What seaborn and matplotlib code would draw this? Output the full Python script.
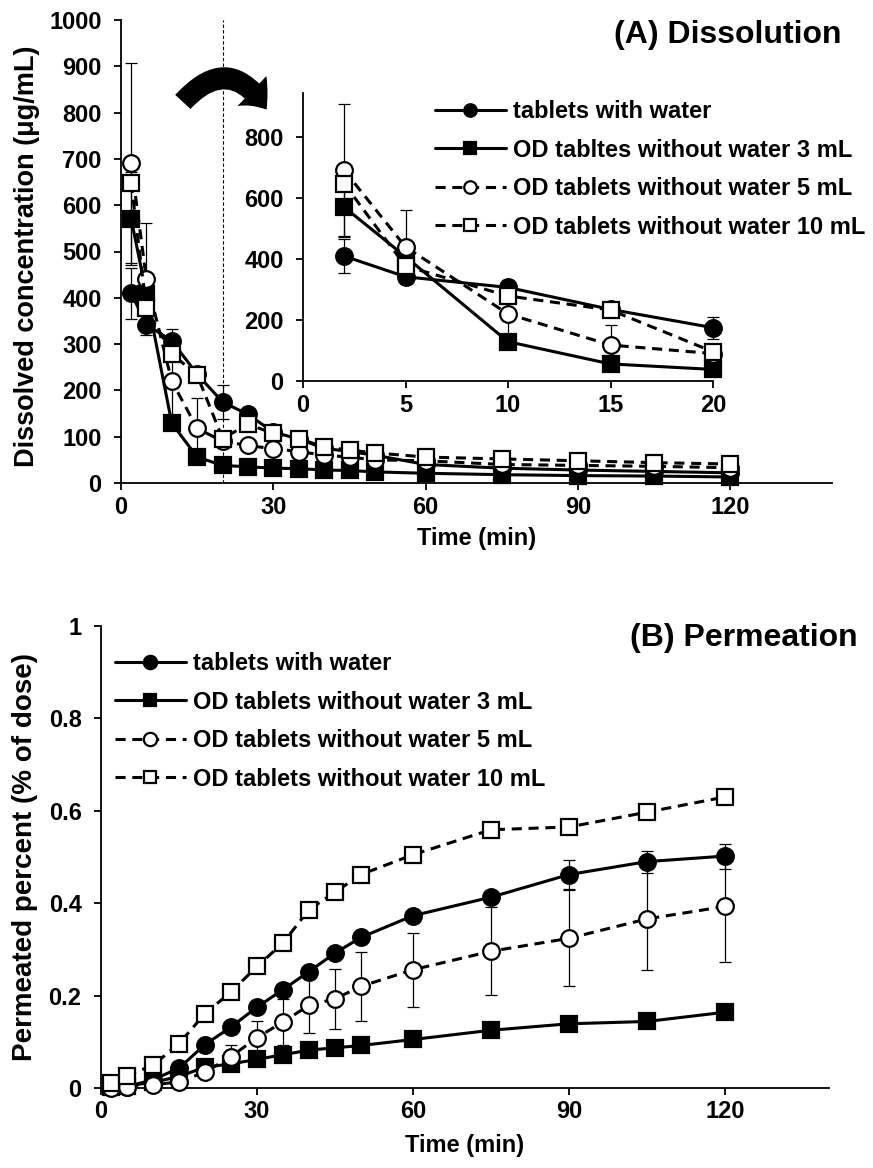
import numpy as np
import pandas as pd
import matplotlib
matplotlib.use("Agg")
import matplotlib.pyplot as plt
import seaborn as sns
from matplotlib.patches import FancyArrowPatch, ArrowStyle

# ---------------- data ----------------
time = [2, 5, 10, 15, 20, 25, 30, 35, 40, 45, 50, 60, 75, 90, 105, 120]

labels_a = ["tablets with water", "OD tabltes without water 3 mL",
            "OD tablets without water 5 mL", "OD tablets without water 10 mL"]
labels_b = ["tablets with water", "OD tablets without water 3 mL",
            "OD tablets without water 5 mL", "OD tablets without water 10 mL"]

# (A) dissolved concentration (ug/mL)
diss_water = [410, 342, 307, 235, 175, 148, 110, 95, 75, 68, 60, 40, 32, 28, 25, 22]
diss_od3 = [571, 408, 129, 56, 38, 35, 32, 31, 28, 27, 24, 21, 18, 16, 15, 13]
diss_od5 = [692, 440, 220, 118, 90, 81, 74, 68, 60, 56, 50, 48, 40, 38, 36, 33]
diss_od10 = [648, 377, 279, 233, 96, 127, 107, 96, 78, 71, 65, 56, 52, 48, 44, 41]
nan = np.nan
diss_water_sd = [55, nan, 25, nan, 36] + [nan] * 11
diss_od3_sd = [100] + [nan] * 15
diss_od5_sd = [216, 121, 95, 66] + [nan] * 12
diss_od10_sd = [nan] * 16

# (B) permeated percent (% of dose)
perm_water = [0.002, 0.003, 0.018, 0.043, 0.094, 0.132, 0.175, 0.213, 0.252, 0.292,
              0.326, 0.373, 0.413, 0.462, 0.490, 0.502]
perm_od3 = [0.002, 0.005, 0.012, 0.025, 0.045, 0.052, 0.062, 0.072, 0.082, 0.087,
            0.092, 0.105, 0.125, 0.139, 0.144, 0.164]
perm_od5 = [0.0, 0.002, 0.006, 0.014, 0.034, 0.068, 0.109, 0.143, 0.179, 0.193,
            0.220, 0.256, 0.296, 0.324, 0.366, 0.393]
perm_od10 = [0.011, 0.027, 0.049, 0.096, 0.161, 0.208, 0.263, 0.314, 0.386, 0.424,
             0.462, 0.505, 0.559, 0.565, 0.597, 0.630]
perm_water_sd = [nan] * 12 + [0.010, 0.032, 0.024, 0.027]
perm_od3_sd = [nan] * 16
perm_od5_sd = [nan] * 5 + [0.025, 0.037, 0.050, 0.060, 0.065, 0.074, 0.080, 0.095,
                           0.104, 0.110, 0.120]
perm_od10_sd = [nan] * 16

# ---------------- style ----------------
sns.set_style("ticks")
plt.rcParams["font.family"] = ["Liberation Sans", "DejaVu Sans"]
plt.rcParams["font.weight"] = "bold"
plt.rcParams["axes.labelweight"] = "bold"
plt.rcParams["axes.linewidth"] = 1.3
plt.rcParams["legend.numpoints"] = 1
plt.rcParams["text.color"] = "black"
plt.rcParams["axes.labelcolor"] = "black"
plt.rcParams["axes.edgecolor"] = "black"
plt.rcParams["xtick.color"] = "black"
plt.rcParams["ytick.color"] = "black"

W, H = 873, 1168
fig = plt.figure(figsize=(W / 100, H / 100), dpi=100)


def fx(px):
    return px / W


def fy(py):
    return 1 - py / H


LW = 2.2
styles = [
    dict(marker="o", markersize=12, markerfacecolor="black", linestyle="-"),
    dict(marker="s", markersize=11, markerfacecolor="black", linestyle="-"),
    dict(marker="o", markersize=12, markerfacecolor="white", linestyle=(0, (3.3, 2.2))),
    dict(marker="s", markersize=11, markerfacecolor="white", linestyle=(0, (3.3, 2.2))),
]


def draw(ax, ys, sds, labels, xmax=None):
    handles = []
    for i, (y, sd, lab, st) in enumerate(zip(ys, sds, labels, styles)):
        df = pd.DataFrame({"time": time, "value": y, "sd": sd})
        if xmax is not None:
            df = df[df["time"] <= xmax]
        e = df.dropna(subset=["sd"])
        if len(e):
            ax.errorbar(e["time"], e["value"], yerr=e["sd"], fmt="none",
                        ecolor="black", elinewidth=0.9, capsize=4.3, capthick=0.9,
                        zorder=2 + i * 0.1, label="_nolegend_", clip_on=False)
        sns.lineplot(data=df, x="time", y="value", ax=ax, color="black",
                     linewidth=LW, markeredgecolor="black", markeredgewidth=1.6,
                     label=lab, zorder=3 + i * 0.1, clip_on=False, **st)
        handles.append(ax.get_lines()[-1])
    return handles


def style_axis(ax, size=17):
    sns.despine(ax=ax)
    ax.tick_params(axis="both", direction="out", length=5, width=1.3,
                   labelsize=size, colors="black")
    ax.tick_params(axis="y", pad=9)
    ax.tick_params(axis="x", pad=4)
    for lab in ax.get_xticklabels() + ax.get_yticklabels():
        lab.set_fontweight("bold")


# ---------------- (A) Dissolution ----------------
axA = fig.add_axes([fx(121), fy(483), fx(832) - fx(121), fy(20) - fy(483)])
axA.axvline(20, color="black", lw=0.8, ls=(0, (3, 2)), zorder=1)
hA = draw(axA, [diss_water, diss_od3, diss_od5, diss_od10],
          [diss_water_sd, diss_od3_sd, diss_od5_sd, diss_od10_sd], labels_a)
axA.set_xlim(0, 140)
axA.set_ylim(0, 1000)
axA.set_xticks([0, 30, 60, 90, 120])
axA.set_yticks(range(0, 1001, 100))
axA.set_xlabel("Time (min)", fontsize=17, fontweight="bold")
axA.set_ylabel("Dissolved concentration (\u03bcg/mL)", fontsize=19.5, fontweight="bold")
axA.xaxis.set_label_coords(0.5, -0.095)
axA.yaxis.set_label_coords(-0.114, 0.49)
style_axis(axA)
axA.get_legend().remove()

# inset
axI = fig.add_axes([fx(303), fy(381), fx(713) - fx(303), fy(93) - fy(381)])
axI.set_facecolor("none")
draw(axI, [diss_water, diss_od3, diss_od5, diss_od10],
     [diss_water_sd, diss_od3_sd, diss_od5_sd, diss_od10_sd], labels_a, xmax=20)
axI.set_xlim(0, 20)
axI.set_ylim(0, 945)
axI.set_xticks([0, 5, 10, 15, 20])
axI.set_yticks([0, 200, 400, 600, 800])
axI.set_xlabel("")
axI.set_ylabel("")
style_axis(axI)
axI.get_legend().remove()

fig.legend(hA, labels_a, loc="upper left", bbox_to_anchor=(fx(435), fy(100)),
           frameon=False, borderpad=0, borderaxespad=0, handlelength=3.0,
           handletextpad=0.3, labelspacing=0.66, markerscale=0.75,
           prop=dict(size=17, weight="bold"))

fig.text(fx(842), fy(35), "(A) Dissolution", ha="right", va="center",
         fontsize=23, fontweight="bold")

arrow = FancyArrowPatch((fx(181), fy(104)), (fx(268), fy(112)),
                        transform=fig.transFigure,
                        arrowstyle=ArrowStyle.Simple(head_length=17, head_width=30,
                                                     tail_width=15),
                        connectionstyle="arc3,rad=-0.68", color="black",
                        mutation_scale=1, lw=0)
fig.add_artist(arrow)

# ---------------- (B) Permeation ----------------
axB = fig.add_axes([fx(101), fy(1088), fx(829) - fx(101), fy(626) - fy(1088)])
hB = draw(axB, [perm_water, perm_od3, perm_od5, perm_od10],
          [perm_water_sd, perm_od3_sd, perm_od5_sd, perm_od10_sd], labels_b)
axB.set_xlim(0, 140)
axB.set_ylim(0, 1)
axB.set_xticks([0, 30, 60, 90, 120])
axB.set_yticks([0, 0.2, 0.4, 0.6, 0.8, 1.0])
axB.set_yticklabels(["0", "0.2", "0.4", "0.6", "0.8", "1"])
axB.set_xlabel("Time (min)", fontsize=17, fontweight="bold")
axB.set_ylabel("Permeated percent (% of dose)", fontsize=20, fontweight="bold")
axB.xaxis.set_label_coords(0.5, -0.1)
axB.yaxis.set_label_coords(-0.086, 0.5)
style_axis(axB)
axB.get_legend().remove()

fig.legend(hB, labels_b, loc="upper left", bbox_to_anchor=(fx(115), fy(652)),
           frameon=False, borderpad=0, borderaxespad=0, handlelength=3.0,
           handletextpad=0.3, labelspacing=0.66, markerscale=0.8,
           prop=dict(size=17, weight="bold"))

fig.text(fx(858), fy(638), "(B) Permeation", ha="right", va="center",
         fontsize=23, fontweight="bold")

fig.savefig("out.png", dpi=100)
